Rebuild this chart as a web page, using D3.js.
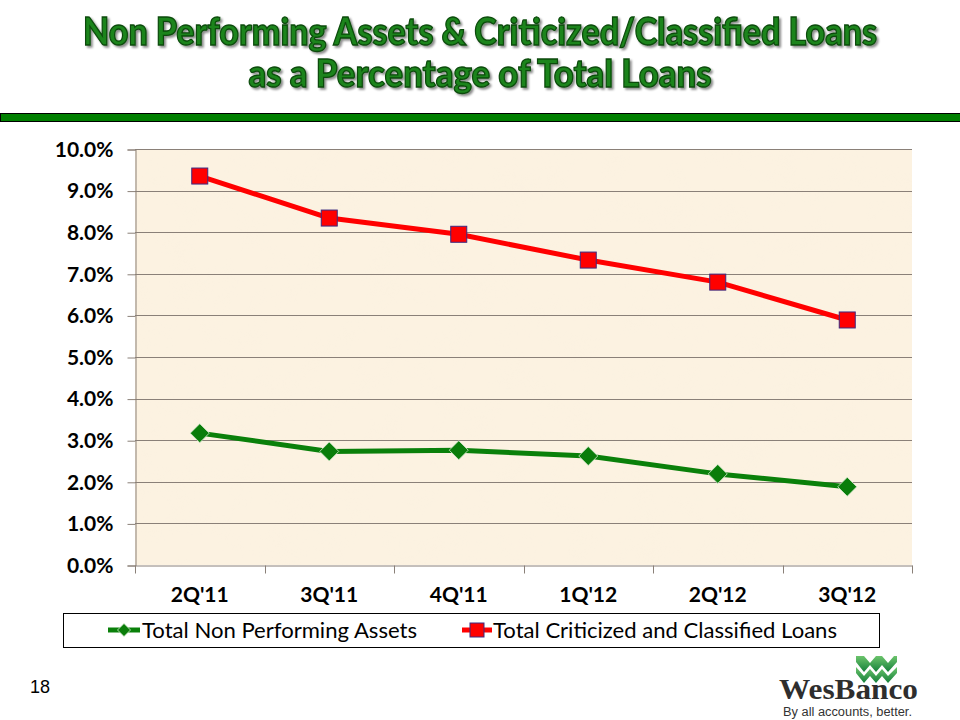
<!DOCTYPE html>
<html>
<head>
<meta charset="utf-8">
<script src="https://cdn.jsdelivr.net/npm/d3@7"></script>
<style>
  html, body { margin: 0; padding: 0; background: #ffffff; }
  svg { display: block; }
</style>
</head>
<body>
<svg id="chart" width="960" height="720"></svg>
<script>
// ---- Data ----
const categories = ["2Q'11", "3Q'11", "4Q'11", "1Q'12", "2Q'12", "3Q'12"];
const nonPerformingAssets = [3.17, 2.73, 2.76, 2.62, 2.19, 1.88];
const criticizedClassified = [9.35, 8.34, 7.95, 7.33, 6.80, 5.89];
const yTickValues = [0, 1, 2, 3, 4, 5, 6, 7, 8, 9, 10];
const seriesNames = ["Total Non Performing Assets", "Total Criticized and Classified Loans"];
const titleLines = ["Non Performing Assets & Criticized/Classified Loans", "as a Percentage of Total Loans"];

const svg = d3.select("#chart");
const defs = svg.append("defs");

// paper texture
const f = defs.append("filter").attr("id", "paper").attr("x", 0).attr("y", 0).attr("width", 1).attr("height", 1);
f.append("feTurbulence").attr("type", "fractalNoise").attr("baseFrequency", "0.03").attr("numOctaves", 4).attr("seed", 7).attr("result", "n");
f.append("feColorMatrix").attr("in", "n").attr("type", "matrix")
  .attr("values", "0 0 0 0 0.93  0 0 0 0 0.86  0 0 0 0 0.74  1.0 0 0 0 -0.45");

const tf = defs.append("filter").attr("id", "tshadow").attr("x", -0.05).attr("y", -0.2).attr("width", 1.1).attr("height", 1.5);
tf.append("feDropShadow").attr("dx", 2).attr("dy", 2).attr("stdDeviation", 1.2).attr("flood-color", "#000").attr("flood-opacity", 0.45);

// ---- Title ----
const fontUI = "Lato, 'Open Sans', sans-serif";
const tg = svg.append("g").attr("filter", "url(#tshadow)");
tg.append("text").attr("x", 480).attr("y", 45).attr("text-anchor", "middle")
  .attr("font-family", fontUI).attr("font-weight", 900).attr("font-size", 37)
  .attr("textLength", 794).attr("lengthAdjust", "spacingAndGlyphs")
  .attr("fill", "#1b841b").attr("stroke", "#0a4a0a").attr("stroke-width", 1.3)
  .text(titleLines[0]);
tg.append("text").attr("x", 480).attr("y", 87).attr("text-anchor", "middle")
  .attr("font-family", fontUI).attr("font-weight", 900).attr("font-size", 37)
  .attr("textLength", 463).attr("lengthAdjust", "spacingAndGlyphs")
  .attr("fill", "#1b841b").attr("stroke", "#0a4a0a").attr("stroke-width", 1.3)
  .text(titleLines[1]);

// green rule
svg.append("rect").attr("x", 0.5).attr("y", 113.5).attr("width", 962).attr("height", 8)
  .attr("fill", "#007f00").attr("stroke", "#000").attr("stroke-width", 1);

// ---- Plot ----
const plot = { left: 135, right: 912, top: 149, bottom: 565 };
const x = d3.scaleBand().domain(categories).range([plot.left, plot.right]).padding(0);
const y = d3.scaleLinear().domain([0, 10]).range([plot.bottom, plot.top]);
const cx = d => x(d) + x.bandwidth() / 2;

svg.append("rect").attr("x", plot.left).attr("y", plot.top)
  .attr("width", plot.right - plot.left).attr("height", plot.bottom - plot.top)
  .attr("fill", "#fcf2e1");
svg.append("rect").attr("x", plot.left).attr("y", plot.top)
  .attr("width", plot.right - plot.left).attr("height", plot.bottom - plot.top)
  .attr("fill", "#fff").attr("filter", "url(#paper)").attr("opacity", 0.22);

// gridlines
svg.append("g").selectAll("line").data(yTickValues.filter(v => v > 0)).join("line")
  .attr("x1", plot.left).attr("x2", plot.right)
  .attr("y1", d => Math.round(y(d)) + 0.5).attr("y2", d => Math.round(y(d)) + 0.5)
  .attr("stroke", "#8a8078").attr("stroke-width", 1);

// y axis
const yAxis = d3.axisLeft(y).tickValues(yTickValues).tickFormat(d => d.toFixed(1) + "%").tickSize(8).tickPadding(14);
const yg = svg.append("g").attr("transform", `translate(${plot.left + 0.5},0.5)`).call(yAxis);
yg.select(".domain").attr("stroke", "#8a8078");
yg.selectAll(".tick line").attr("stroke", "#8a8078");
yg.selectAll(".tick text").attr("font-family", fontUI).attr("font-weight", 700).attr("font-size", 21).attr("fill", "#000");

// x axis
const xAxis = d3.axisBottom(x).tickSize(0).tickPadding(22);
const xg = svg.append("g").attr("transform", `translate(0,${plot.bottom + 0.5})`).call(xAxis);
xg.select(".domain").attr("stroke", "#8a8078");
xg.selectAll(".tick text").attr("font-family", fontUI).attr("font-weight", 700).attr("font-size", 21).attr("fill", "#000");
// boundary tick marks
xg.append("g").selectAll("line").data(categories.concat(["__end"])).join("line")
  .attr("x1", (d, i) => Math.round(i < categories.length ? x(d) : plot.right) + 0.5)
  .attr("x2", (d, i) => Math.round(i < categories.length ? x(d) : plot.right) + 0.5)
  .attr("y1", 0).attr("y2", 8).attr("stroke", "#8a8078");

// ---- Series ----
const line = d3.line().x((d, i) => cx(categories[i])).y(d => y(d));

svg.append("path").datum(nonPerformingAssets).attr("d", line)
  .attr("fill", "none").attr("stroke", "#0a800a").attr("stroke-width", 5).attr("stroke-linejoin", "round");
svg.append("path").datum(criticizedClassified).attr("d", line)
  .attr("fill", "none").attr("stroke", "#ff0000").attr("stroke-width", 5).attr("stroke-linejoin", "round");

const diamond = (px, py, r) => `M${px},${py - r}L${px + r},${py}L${px},${py + r}L${px - r},${py}Z`;
svg.append("g").selectAll("path").data(nonPerformingAssets).join("path")
  .attr("d", (d, i) => diamond(cx(categories[i]), y(d), 9.5))
  .attr("fill", "#0a7d0a").attr("stroke", "#d8ecd0").attr("stroke-width", 0.8);

svg.append("g").selectAll("rect").data(criticizedClassified).join("rect")
  .attr("x", (d, i) => cx(categories[i]) - 8).attr("y", d => y(d) - 8)
  .attr("width", 16).attr("height", 16)
  .attr("fill", "#ff0000").attr("stroke", "#3b2a80").attr("stroke-width", 1);

// ---- Legend ----
const lg = svg.append("g");
lg.append("rect").attr("x", 63.5).attr("y", 613.5).attr("width", 816).attr("height", 34)
  .attr("fill", "#fff").attr("stroke", "#000").attr("stroke-width", 1);
lg.append("line").attr("x1", 108).attr("x2", 140).attr("y1", 630).attr("y2", 630)
  .attr("stroke", "#0a800a").attr("stroke-width", 5);
lg.append("path").attr("d", diamond(124, 630, 6.5)).attr("fill", "#0a7d0a").attr("stroke", "#d8ecd0").attr("stroke-width", 0.8);
lg.append("text").attr("x", 142).attr("y", 638).attr("font-family", fontUI).attr("font-size", 21)
  .attr("textLength", 275).attr("lengthAdjust", "spacingAndGlyphs").attr("fill", "#000").text(seriesNames[0]);
lg.append("line").attr("x1", 462).attr("x2", 492).attr("y1", 630).attr("y2", 630)
  .attr("stroke", "#ff0000").attr("stroke-width", 5);
lg.append("rect").attr("x", 470).attr("y", 623).attr("width", 14).attr("height", 14)
  .attr("fill", "#ff0000").attr("stroke", "#3b2a80").attr("stroke-width", 1);
lg.append("text").attr("x", 493).attr("y", 638).attr("font-family", fontUI).attr("font-size", 21)
  .attr("textLength", 344).attr("lengthAdjust", "spacingAndGlyphs").attr("fill", "#000").text(seriesNames[1]);

// ---- Page number ----
svg.append("text").attr("x", 30).attr("y", 693).attr("font-family", "'Liberation Sans', Arial, sans-serif")
  .attr("font-size", 18).attr("fill", "#000").text("18");

// ---- Logo ----
const logo = svg.append("g");
const grad = defs.append("linearGradient").attr("id", "lg1").attr("x1", 0).attr("y1", 0).attr("x2", 0).attr("y2", 1);
grad.append("stop").attr("offset", "0%").attr("stop-color", "#6cc46c");
grad.append("stop").attr("offset", "100%").attr("stop-color", "#14803a");
logo.append("path")
  .attr("d", "M856,656 L864,656 L870,663 L876,656 L882,656 L888,663 L894,656 L897,656 L897,662 L888,672 L882,665 L876,672 L870,665 L864,672 L856,662 Z")
  .attr("fill", "url(#lg1)");
logo.append("path")
  .attr("d", "M856,667 L864,676 L870,669 L876,676 L882,669 L888,676 L897,667 L897,673 L888,683 L882,676 L876,683 L870,676 L864,683 L856,673 Z")
  .attr("fill", "url(#lg1)");
logo.append("text").attr("x", 779).attr("y", 699).attr("font-family", "'Liberation Serif', 'DejaVu Serif', serif")
  .attr("font-weight", 700).attr("font-size", 29).attr("textLength", 139).attr("lengthAdjust", "spacingAndGlyphs")
  .attr("fill", "#2e2e2e").text("WesBanco");
logo.append("text").attr("x", 783).attr("y", 716).attr("font-family", "'Liberation Sans', Arial, sans-serif")
  .attr("font-size", 12.5).attr("textLength", 129).attr("lengthAdjust", "spacingAndGlyphs")
  .attr("fill", "#333").text("By all accounts, better.");
</script>
</body>
</html>
